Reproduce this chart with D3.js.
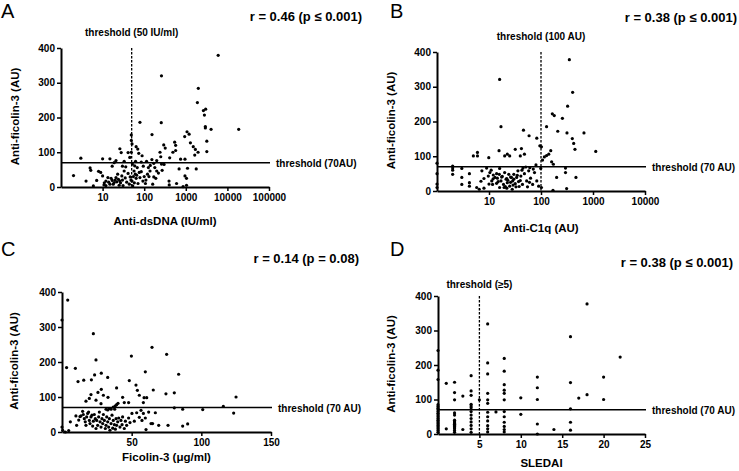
<!DOCTYPE html>
<html>
<head>
<meta charset="utf-8">
<script src="https://cdn.jsdelivr.net/npm/d3@7"></script>
<style>
  body { margin: 0; background: #fff; }
  text { font-family: "Liberation Sans", Arial, sans-serif; fill: #000; }
  .axis path, .axis line { stroke: #000; }
  .axis path { stroke-width: 2; }
  .axis line { stroke-width: 1.5; }
  .axis text { font-size: 10px; font-weight: bold; }
</style>
</head>
<body>
<script>
// y axis shared by all four panels
var yTicks = [0, 100, 200, 300, 400];
var cutY = 70;

// A: anti-dsDNA vs anti-ficolin-3
var aTicks = [10, 100, 1000, 10000, 100000];
var aPoints = [[6000,379],[260,320],[2000,284],[1900,243],[2650,220],[3000,224],[2800,207],[2950,174],[2950,170],[4050,166],[18700,166],[79,186],[257,185],[154,151],[940,145],[1070,159],[1200,152],[3200,132],[1290,127],[540,129],[570,120],[570,105],[490,100],[1510,116],[1700,108],[1640,92],[1970,100],[3200,102],[295,121],[320,112],[240,100],[410,84],[750,80],[955,80],[1100,54],[1780,52],[690,52],[955,32],[1040,25],[1040,5],[860,1],[600,10],[395,17],[400,6],[260,66],[270,48],[200,46],[170,29],[190,25],[126,56],[138,46],[120,37],[160,8],[107,10],[93,17],[79,27],[76,42],[68,56],[61,37],[57,46],[64,25],[71,10],[53,3],[51,17],[46,29],[41,39],[36,58],[33,46],[29,32],[26,17],[23,37],[21,27],[19,13],[17,19],[15,8],[13.4,27],[12,17],[10.8,6],[10,32],[9,42],[7.2,19],[6,3],[5.2,48],[4,17],[3,83],[2,33],[10,81],[15,81],[21,76],[26,110],[28,99],[33,74],[41,99],[49,100],[64,116],[70,109],[74,97],[49,150],[49,134],[51,124],[52,66],[59,61],[89,90],[114,74],[153,79],[200,76],[250,87],[170,68],[11,12],[12,4],[14,14],[16,25],[18,8],[20,20],[22,15],[24,22],[25,5],[27,12],[30,20],[31,4],[35,26],[38,14],[44,8],[48,20],[55,30],[58,12],[66,34],[85,44],[95,60],[100,30],[110,20],[130,30],[140,62],[180,56],[220,40],[300,65],[8,45],[17,60],[19,70],[45,85],[62,74],[85,72],[5,55],[30,60]];

// B: anti-C1q
var bTicks = [10, 100, 1000, 10000];
var bPoints = [[351,378],[406,284],[325,244],[16,321],[17,185],[165,222],[180,217],[258,209],[210,172],[316,167],[670,167],[400,151],[425,137],[450,120],[1130,114],[128,185],[46,175],[59,159],[83,152],[102,127],[95,130],[32,120],[42,122],[15.6,116],[25,101],[22.5,106],[20,101],[9.9,96],[6,101],[5,101],[6,111],[40,101],[48,106],[128,102],[141,106],[154,116],[116,98],[107,89],[160,84],[173,77],[80,75],[1,80],[1,50],[1,20],[1,10],[2,72],[2,66],[2,60],[2,48],[3,65],[3,39],[3,19],[4.2,50],[4.2,24],[4.2,14],[5.8,10],[6.5,5],[7.3,58],[9,66],[9.7,43],[11.3,29],[11.7,19],[13,39],[14,50],[15,27],[16,10],[17.5,40],[19,19],[20,53],[21.3,34],[22.5,24],[24,48],[25,14],[27,39],[28.5,29],[30,48],[32,21],[34,39],[37,27],[41,43],[44,19],[48,50],[53,29],[58,58],[63,37],[69,19],[75,53],[83,29],[90,14],[10.4,53],[12.1,46],[14.5,37],[15.8,48],[17,29],[19.5,10],[20.6,13],[23,31],[26,25],[29,17],[33,12],[36,58],[38,13],[43,60],[51,69],[61,67],[71,63],[200,39],[296,53],[311,7],[470,39],[296,66],[102,10],[99,65],[10,20],[12,35],[14,22],[18,42],[22,36],[26,40],[30,34],[35,45],[40,30],[8,36],[7,28],[11,60],[16,65],[22,8],[28,5],[45,66],[55,12],[60,25],[170,2],[8,8]];

// C: ficolin-3 concentration
var cTicks = [50, 100, 150];
var cPoints = [[4.1,377],[0,320],[22.5,281],[24.4,206],[64.6,242],[49.8,217],[75.1,222],[3.3,184],[9.6,182],[59.8,172],[23.4,163],[28.2,168],[83.7,165],[32.8,156],[11.5,144],[15.6,148],[21.1,149],[48.3,147],[53.1,134],[54.1,119],[65.5,120],[39.2,126],[28.2,122],[25.8,113],[20.8,107],[29.7,105],[33,99],[43.5,99],[47.8,84],[55.5,105],[58.9,98],[60.8,98],[58.4,84],[74.6,109],[80.6,112],[124.9,100],[115.8,73],[123.2,54],[101,64],[86.6,65],[80.6,69],[86.6,17],[90.2,23],[76.1,19],[69.4,19],[65,24],[6,29],[10,46],[10.5,19],[12,34],[12.9,44],[13.6,46],[14.8,59],[15.3,50],[16,38],[16.7,29],[17.2,19],[17.7,43],[18.4,53],[19.1,57],[19.6,33],[20.1,24],[20.8,43],[21.5,48],[22,17],[22.5,31],[23.2,50],[23.9,38],[24.4,10],[24.9,33],[25.6,19],[26.3,43],[26.8,57],[27.3,29],[28,14],[28.7,38],[29.2,24],[29.7,50],[30.4,33],[31.1,10],[31.6,19],[32.1,43],[32.8,29],[33.5,14],[34,38],[34.4,5],[35.2,24],[35.9,48],[36.4,11],[36.8,33],[37.6,21],[38.3,8],[38.8,38],[39.2,19],[40,29],[40.7,40],[41.6,14],[42.3,33],[43.1,21],[43.5,43],[44.7,10],[45.5,31],[46.4,19],[47.8,40],[48.8,27],[50.2,53],[51.9,31],[53.6,55],[55.5,42],[56.7,62],[57.4,33],[58.4,53],[59.8,40],[60.3,7],[62.2,57],[63.9,24],[67,55],[4.8,4],[0.5,5],[2.4,0],[0,14],[31.6,65],[32.8,63],[34,67],[35.2,65],[36.8,71],[38.3,75],[39.2,78],[40.2,82],[37.8,65],[17.2,88],[19.6,96],[24.4,91],[28,81],[44.7,84]];

// D: SLEDAI score
var dTicks = [5, 10, 15, 20, 25];
var dPoints = [[0,242],[0,185],[0,158],[0,85],[0,80],[0,75],[0,70],[0,65],[0,60],[0,55],[0,50],[0,45],[0,40],[0,35],[0,30],[0,25],[0,20],[0,15],[0,10],[0,5],
  [1,147],[1,15],
  [2,150],[2,120],[2,99],[2,61],[2,55],[2,40],[2,38],[2,35],[2,32],[2,30],[2,28],[2,25],[2,22],[2,18],[2,15],[2,10],[2,5],
  [3,110],[3,13],
  [4,169],[4,125],[4,112],[4,86],[4,81],[4,76],[4,65],[4,55],[4,45],[4,35],[4,25],[4,15],[4,5],
  [5,99],
  [6,319],[6,206],[6,174],[6,118],[6,99],[6,89],[6,63],[6,50],[6,38],[6,24],[6,15],[6,6],
  [7,64],
  [8,219],[8,182],[8,143],[8,127],[8,118],[8,99],[8,65],[8,50],[8,34],[8,22],[8,13],[8,6],
  [10,105],[10,57],
  [12,165],[12,134],[12,100],[12,29],[12,0],
  [14,13],
  [16,282],[16,149],[16,73],[16,34],[16,11],
  [17,104],[18,377],[18,114],[20,165],[20,100],[22,223]];

var svg = d3.select("body").append("svg")
  .attr("width", 739)
  .attr("height", 471);

var panel = function(p){
  var x = (p.log ? d3.scaleLog() : d3.scaleLinear())
    .domain(p.xDomain)
    .range([p.left, p.right]);
  var y = d3.scaleLinear()
    .domain([0, 400])
    .range([p.bottom, p.top]);

  var g = svg.append("g");

  g.append("g").attr("class", "axis")
    .attr("transform", "translate(" + p.left + ",0)")
    .call(d3.axisLeft(y).tickValues(yTicks).tickSize(4).tickSizeOuter(0).tickPadding(2));

  g.append("g").attr("class", "axis")
    .attr("transform", "translate(0," + p.bottom + ")")
    .call(d3.axisBottom(x).tickValues(p.ticks).tickFormat(d3.format("d")).tickSize(4).tickSizeOuter(0).tickPadding(3));

  // horizontal threshold at 70 AU
  g.append("line")
    .attr("x1", p.left).attr("x2", p.right + 1)
    .attr("y1", y(cutY)).attr("y2", y(cutY))
    .attr("stroke", "#000").attr("stroke-width", 1.5);
  g.append("text")
    .attr("x", p.right + 7).attr("y", y(cutY) + 4)
    .style("font-size", "10px").style("font-weight", "bold")
    .text(p.hLabel);

  if (p.vCut != null) {
    g.append("line")
      .attr("x1", x(p.vCut)).attr("x2", x(p.vCut))
      .attr("y1", p.top).attr("y2", p.bottom)
      .attr("stroke", "#000").attr("stroke-width", 1.3)
      .attr("stroke-dasharray", "2.5,1.5");
    g.append("text")
      .attr("x", x(p.vCut)).attr("y", p.vLabelY)
      .attr("text-anchor", "middle")
      .style("font-size", "10px").style("font-weight", "bold")
      .text(p.vLabel);
  }

  g.selectAll("circle")
    .data(p.points)
    .enter()
    .append("circle")
    .attr("cx", function(d){ return x(d[0]); })
    .attr("cy", function(d){ return y(d[1]); })
    .attr("r", 1.6)
    .attr("fill", "#000");

  g.append("text")
    .attr("x", p.letterX).attr("y", p.letterY)
    .style("font-size", "20px")
    .text(p.letter);

  g.append("text")
    .attr("x", p.rX).attr("y", p.rY)
    .attr("text-anchor", "end")
    .style("font-size", "13px").style("font-weight", "bold")
    .text(p.rText);

  g.append("text")
    .attr("x", (p.left + p.right) / 2).attr("y", p.xTitleY)
    .attr("text-anchor", "middle")
    .style("font-size", "11.5px").style("font-weight", "bold")
    .text(p.xTitle);

  g.append("text")
    .attr("transform", "translate(" + p.yTitleX + "," + ((p.top + p.bottom) / 2 - 1) + ") rotate(-90)")
    .attr("text-anchor", "middle")
    .style("font-size", "11.5px").style("font-weight", "bold")
    .text("Anti-ficolin-3 (AU)");
};

panel({ letter: "A", letterX: 1, letterY: 18, log: true, xDomain: [1, 100000], ticks: aTicks,
  left: 61, right: 269, top: 48, bottom: 187, points: aPoints,
  vCut: 50, vLabel: "threshold (50 IU/ml)", vLabelY: 36, hLabel: "threshold (70AU)",
  rText: "r = 0.46 (p \u2264 0.001)", rX: 362, rY: 21,
  xTitle: "Anti-dsDNA (IU/ml)", xTitleY: 225, yTitleX: 19 });

panel({ letter: "B", letterX: 390, letterY: 18, log: true, xDomain: [1, 10000], ticks: bTicks,
  left: 437, right: 645, top: 52, bottom: 191, points: bPoints,
  vCut: 100, vLabel: "threshold (100 AU)", vLabelY: 40, hLabel: "threshold (70 AU)",
  rText: "r = 0.38 (p \u2264 0.001)", rX: 737, rY: 22,
  xTitle: "Anti-C1q (AU)", xTitleY: 232, yTitleX: 395 });

panel({ letter: "C", letterX: 1, letterY: 256, log: false, xDomain: [0, 150], ticks: cTicks,
  left: 62, right: 271, top: 292, bottom: 432, points: cPoints,
  vCut: null, hLabel: "threshold (70 AU)",
  rText: "r = 0.14 (p = 0.08)", rX: 359, rY: 263,
  xTitle: "Ficolin-3 (\u03bcg/ml)", xTitleY: 461, yTitleX: 18 });

panel({ letter: "D", letterX: 390, letterY: 256, log: false, xDomain: [0, 25], ticks: dTicks,
  left: 438, right: 645, top: 296, bottom: 434, points: dPoints,
  vCut: 5, vLabel: "threshold (\u22655)", vLabelY: 288, hLabel: "threshold (70 AU)",
  rText: "r = 0.38 (p \u2264 0.001)", rX: 733, rY: 267,
  xTitle: "SLEDAI", xTitleY: 467, yTitleX: 395 });
</script>
</body>
</html>
